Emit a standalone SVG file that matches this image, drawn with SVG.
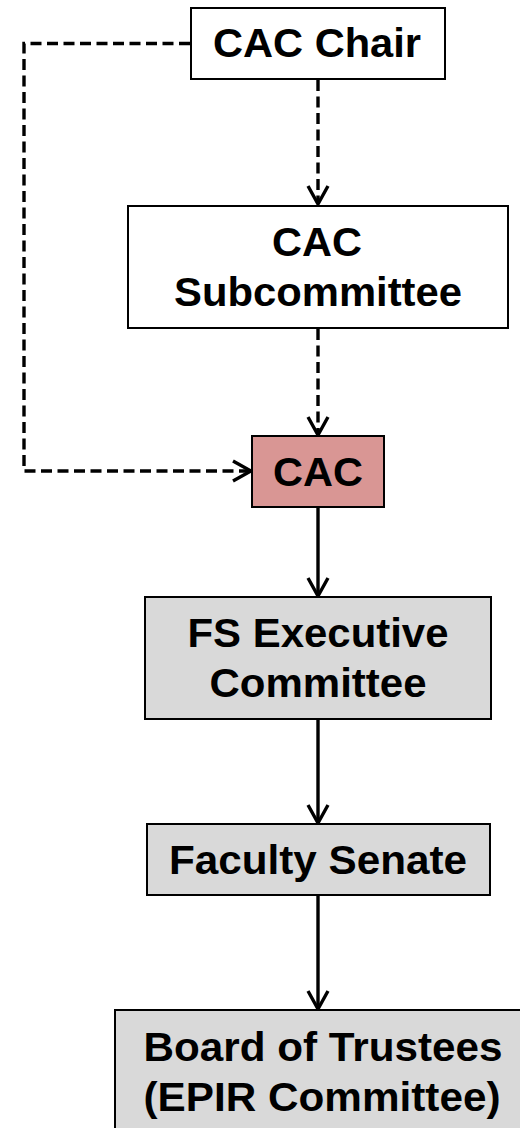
<svg xmlns="http://www.w3.org/2000/svg" width="520" height="1128" viewBox="0 0 520 1128">
<style>
.box{stroke:#000;stroke-width:2}
.w{fill:#fff}
.g{fill:#d9d9d9}
.p{fill:#d99694}
.t{font-family:"Liberation Sans",Arial,sans-serif;font-weight:bold;font-size:40px;fill:#000;text-anchor:middle}
.c{fill:none;stroke:#000;stroke-width:3.4}
.d{stroke-dasharray:11,5.5}
</style>
<defs>
<marker id="arr" viewBox="0 0 22 24" refX="20" refY="12" markerWidth="22" markerHeight="24" markerUnits="userSpaceOnUse" orient="auto">
<path d="M2,2 L20,12 L2,22" fill="none" stroke="#000" stroke-width="3.4"/>
</marker>
</defs>
<rect width="520" height="1128" fill="#fff"/>
<g id="connectors">
<path class="c d" d="M318,80 V204" marker-end="url(#arr)"/>
<path class="c d" d="M318,329 V435" marker-end="url(#arr)"/>
<path class="c d" d="M190,43.5 H24 V471 H251" marker-end="url(#arr)"/>
<path class="c" d="M318,507 V596" marker-end="url(#arr)"/>
<path class="c" d="M318,720 V823" marker-end="url(#arr)"/>
<path class="c" d="M318,896 V1009" marker-end="url(#arr)"/>
</g>
<g id="cac-chair">
<rect class="box w" x="191" y="8" width="254" height="71"/>
<text class="t" x="317" y="57" textLength="208" lengthAdjust="spacingAndGlyphs">CAC Chair</text>
</g>
<g id="cac-subcommittee">
<rect class="box w" x="128" y="206" width="380" height="122"/>
<text class="t" x="317" y="256" textLength="90" lengthAdjust="spacingAndGlyphs">CAC</text>
<text class="t" x="318" y="306" textLength="288" lengthAdjust="spacingAndGlyphs">Subcommittee</text>
</g>
<g id="cac">
<rect class="box p" x="252" y="436" width="132" height="71"/>
<text class="t" x="318" y="486" textLength="90" lengthAdjust="spacingAndGlyphs">CAC</text>
</g>
<g id="fs-executive">
<rect class="box g" x="145" y="597" width="346" height="122"/>
<text class="t" x="318" y="647" textLength="261" lengthAdjust="spacingAndGlyphs">FS Executive</text>
<text class="t" x="318" y="697" textLength="217" lengthAdjust="spacingAndGlyphs">Committee</text>
</g>
<g id="faculty-senate">
<rect class="box g" x="147" y="824" width="343" height="71"/>
<text class="t" x="318" y="874" textLength="298" lengthAdjust="spacingAndGlyphs">Faculty Senate</text>
</g>
<g id="board">
<rect class="box g" x="115" y="1010" width="415" height="130"/>
<text class="t" x="323" y="1061" textLength="359" lengthAdjust="spacingAndGlyphs">Board of Trustees</text>
<text class="t" x="322" y="1111" textLength="357" lengthAdjust="spacingAndGlyphs">(EPIR Committee)</text>
</g>
</svg>
